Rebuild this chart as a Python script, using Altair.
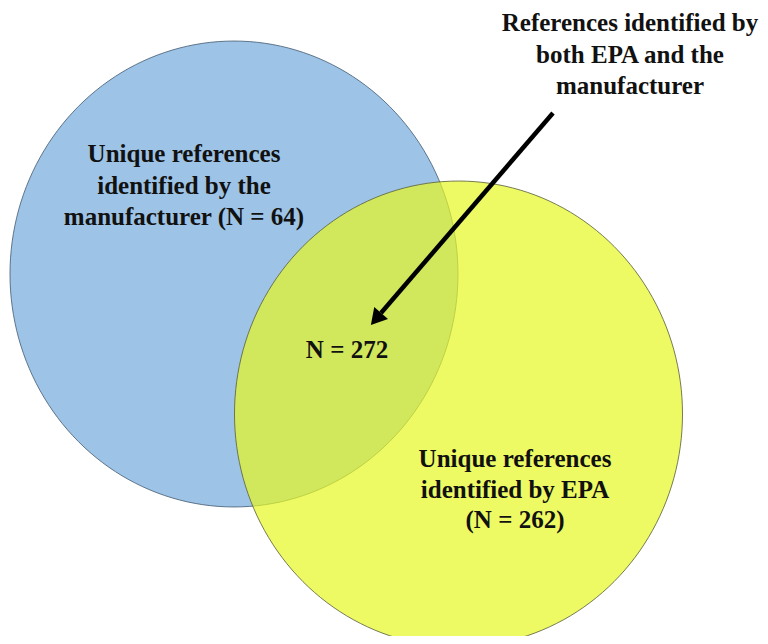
import math
import altair as alt
import pandas as pd

# ---------------- data ----------------
only_manufacturer = 64
only_epa = 262
both_sets = 272

label_manufacturer = ["Unique references", "identified by the", f"manufacturer (N = {only_manufacturer})"]
label_epa = ["Unique references", "identified by EPA", f"(N = {only_epa})"]
label_both = [f"N = {both_sets}"]
label_callout = ["References identified by", "both EPA and the", "manufacturer"]

# ---------------- layout (pixel space of the picture) ----------------
W, H = 752, 628
X0, Y0 = 8, 8
xs = alt.Scale(domain=[X0, X0 + W], nice=False, zero=False)
ys = alt.Scale(domain=[Y0, Y0 + H], nice=False, zero=False, reverse=True)

RX = 224.0
ASPECT = 1.04
pts = []
for i in range(180):
    t = 2 * math.pi * i / 180
    pts.append(f"{math.cos(t):.4f},{ASPECT * math.sin(t):.4f}")
ellipse_path = "M" + "L".join(pts) + "Z"
ellipse_size = (2 * RX) ** 2

circles = pd.DataFrame({
    "set": ["manufacturer", "EPA"],
    "cx": [234, 458.5],
    "cy": [274, 414],
})

FONT = "Liberation Serif"
FS = 25


def circle_layer(name, fill, opacity, stroke):
    return alt.Chart(circles[circles["set"] == name]).mark_point(
        shape=ellipse_path, size=ellipse_size, filled=True,
        fill=fill, fillOpacity=opacity, opacity=1,
        stroke=stroke, strokeWidth=1, strokeOpacity=0.85,
    ).encode(
        x=alt.X("cx:Q", scale=xs, axis=None),
        y=alt.Y("cy:Q", scale=ys, axis=None),
    )


blue = circle_layer("manufacturer", "#9DC3E6", 1.0, "#4a6178")
yellow = circle_layer("EPA", "#E7F822", 0.7, "#5f6440")

arrow_df = pd.DataFrame({"x": [553], "y": [113], "x2": [381], "y2": [313]})
arrow_line = alt.Chart(arrow_df).mark_rule(color="black", strokeWidth=4.5, strokeCap="butt").encode(
    x=alt.X("x:Q", scale=xs, axis=None),
    y=alt.Y("y:Q", scale=ys, axis=None),
    x2="x2:Q",
    y2="y2:Q",
)

head_df = pd.DataFrame({"x": [376.0], "y": [319.0]})
arrow_head = alt.Chart(head_df).mark_point(
    shape="triangle-up", size=330, angle=220.6, filled=True, color="black", opacity=1
).encode(
    x=alt.X("x:Q", scale=xs, axis=None),
    y=alt.Y("y:Q", scale=ys, axis=None),
)

texts = pd.DataFrame({
    "label": ["\n".join(label_manufacturer), "\n".join(label_epa),
              "\n".join(label_both), "\n".join(label_callout)],
    "x": [184, 515, 347, 630],
    "y": [162, 467, 358, 31],
})


def text_layer(row, lh):
    return alt.Chart(texts.iloc[[row]]).mark_text(
        font=FONT, fontSize=FS, fontWeight="bold", color="#111111",
        align="center", baseline="alphabetic", lineBreak="\n", lineHeight=lh,
    ).encode(
        x=alt.X("x:Q", scale=xs, axis=None),
        y=alt.Y("y:Q", scale=ys, axis=None),
        text="label:N",
    )


chart = alt.layer(
    blue, yellow, arrow_line, arrow_head,
    text_layer(0, 31.5), text_layer(1, 30.5), text_layer(2, 30), text_layer(3, 31.5),
).properties(
    width=W, height=H, padding=0, autosize=alt.AutoSizeParams(type="none"),
    background="white",
).configure_view(stroke=None)

chart.save("out.html", embed_options={"renderer": "svg", "actions": False})
